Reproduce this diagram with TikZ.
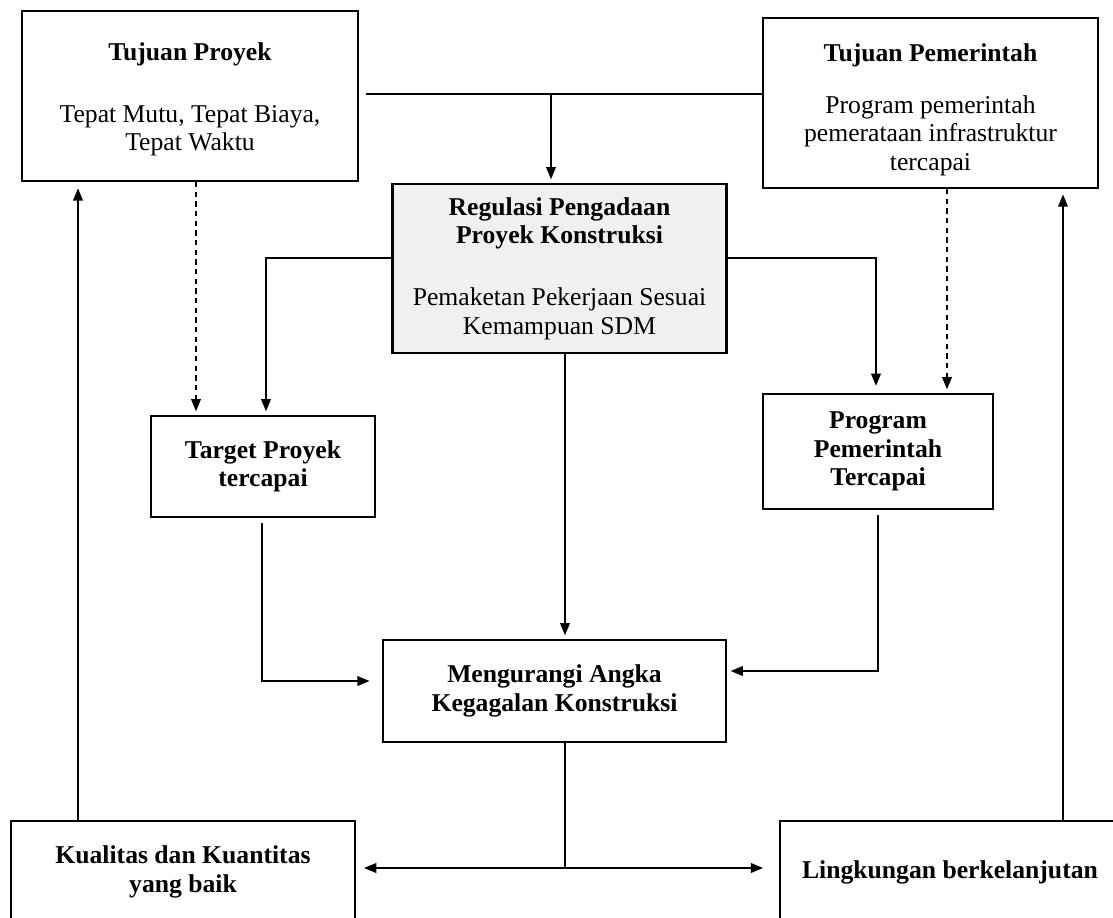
\documentclass[tikz,border=0pt]{standalone}
\usepackage{fontspec}
\setmainfont{Liberation Serif}
\usepackage{tikz}
\usetikzlibrary{arrows.meta}

\begin{document}
\begin{tikzpicture}[x=0.02cm, y=-0.02cm,
    box/.style={draw, line width=1.3pt, inner sep=0pt, align=center,
                font=\fontsize{14.6pt}{16.3pt}\selectfont},
    boldbox/.style={box, font=\fontsize{14.6pt}{16.3pt}\selectfont\bfseries},
    arr/.style={line width=1pt, -{Triangle[length=7pt,width=5.5pt]}, shorten >=2pt},
    dashline/.style={arr, dash pattern=on 3pt off 2.5pt}]
    \clip (0,0) rectangle (1113,917);

    % Tujuan (top row)
    \node[box, minimum width=6.72cm, minimum height=3.4cm] (tproyek) at (190,96)
        {{\rule{0pt}{14pt}\bfseries Tujuan Proyek}\\[19pt]Tepat Mutu, Tepat Biaya,\\Tepat Waktu};
    \node[box, minimum width=6.7cm, minimum height=3.4cm] (tpemerintah) at (930.5,103)
        {{\rule{0pt}{18pt}\bfseries Tujuan Pemerintah}\\[13pt]Program pemerintah\\pemerataan infrastruktur\\tercapai};

    % Regulasi (grey box)
    \node[box, fill=gray!12, minimum width=6.68cm, minimum height=3.38cm] (regulasi) at (559.5,268.5)
        {{\bfseries Regulasi Pengadaan}\\{\bfseries Proyek Konstruksi}\\[19pt]Pemaketan Pekerjaan Sesuai\\Kemampuan SDM};

    % Target and Program
    \node[boldbox, minimum width=4.48cm, minimum height=2.02cm] (target) at (263,466.5)
        {Target Proyek\\tercapai};
    \node[boldbox, minimum width=4.6cm, minimum height=2.3cm] (program) at (878,451.5)
        {Program\\Pemerintah\\Tercapai};

    % Mengurangi
    \node[boldbox, minimum width=6.86cm, minimum height=2.04cm] (mengurangi) at (554.5,691)
        {Mengurangi Angka\\Kegagalan Konstruksi};

    % Outcomes (bottom row)
    \node[boldbox, minimum width=6.88cm, minimum height=2.04cm] (kualitas) at (183,872)
        {Kualitas dan Kuantitas\\yang baik};
    \node[boldbox, minimum width=6.8cm, minimum height=2.04cm] (lingkungan) at (950,872)
        {Lingkungan berkelanjutan};

    % rails and turning points
    \coordinate (jtop) at (551,94);
    \coordinate (rl) at (266,258);
    \coordinate (rr) at (876,258);
    \coordinate (dl) at (196,0);
    \coordinate (dr) at (947,0);
    \coordinate (cmid) at (565,0);
    \coordinate (tl) at (262,681);
    \coordinate (pr) at (878,671);
    \coordinate (br) at (565,868);
    \coordinate (fl) at (78,0);
    \coordinate (fr) at (1063,0);

    % top line into Regulasi
    \draw[line width=1pt, shorten <=4pt] (tproyek.east |- jtop) -- (tpemerintah.west |- jtop);
    \draw[arr] (jtop) -- (jtop |- regulasi.north);

    % Regulasi to Target / Program
    \draw[arr] (regulasi.west |- rl) -- (rl) -- (rl |- target.north);
    \draw[arr, shorten >=4pt] (regulasi.east |- rr) -- (rr) -- (rr |- program.north);
    \draw[dashline] (tproyek.south -| dl) -- (target.north -| dl);
    \draw[dashline] (tpemerintah.south -| dr) -- (program.north -| dr);

    % into Mengurangi
    \draw[arr] (regulasi.south -| cmid) -- (mengurangi.north -| cmid);
    \draw[arr, shorten <=3pt, shorten >=7pt] (target.south -| tl) -- (tl) -- (tl -| mengurangi.west);
    \draw[arr, shorten <=3pt] (program.south -| pr) -- (pr) -- (pr -| mengurangi.east);

    % Mengurangi to outcomes
    \draw[line width=1pt] (mengurangi.south -| br) -- (br);
    \draw[arr, shorten >=4.5pt] (br) -- (br -| kualitas.east);
    \draw[arr, shorten >=9pt] (br) -- (br -| lingkungan.west);

    % feedback to Tujuan
    \draw[arr, shorten >=3.5pt] (kualitas.north -| fl) -- (tproyek.south -| fl);
    \draw[arr, shorten >=3pt] (lingkungan.north -| fr) -- (tpemerintah.south -| fr);
\end{tikzpicture}
\end{document}
